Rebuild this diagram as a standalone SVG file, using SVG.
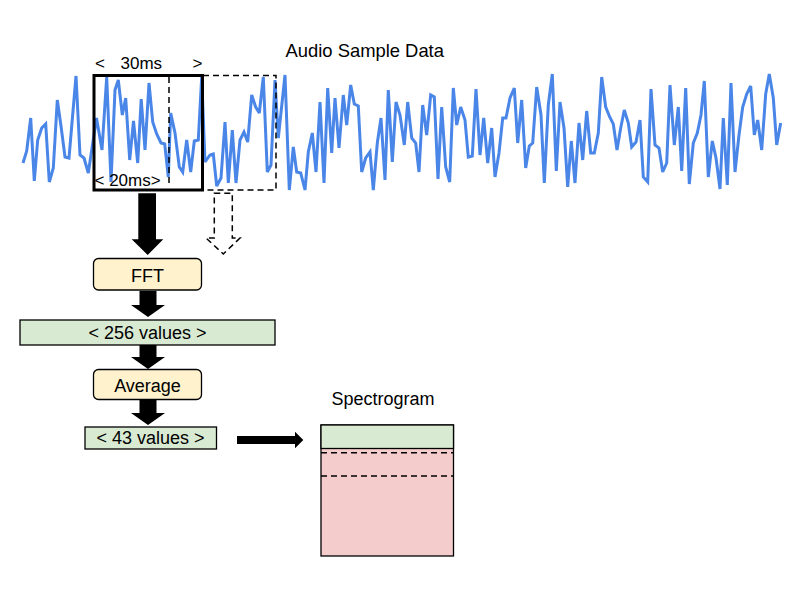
<svg xmlns="http://www.w3.org/2000/svg" width="800" height="600" viewBox="0 0 800 600">
<style>
text{font-family:"Liberation Sans",Arial,sans-serif;fill:#000}
.t18{font-size:18px}
.t17{font-size:17px}
.wave{fill:none;stroke:#4a86e8;stroke-width:3;stroke-linejoin:miter;stroke-miterlimit:3}
.proc{fill:#fff2cc;stroke:#000;stroke-width:1.3}
.data{fill:#d9ead3;stroke:#000;stroke-width:1.3}
.arr{fill:#000;stroke:none}
.dash{fill:none;stroke:#000;stroke-width:1.5;stroke-dasharray:6 4}
</style>
<rect width="800" height="600" fill="#fff"/>
<g id="audio">
<text class="t18" x="285.5" y="57" style="font-size:18.4px">Audio Sample Data</text>
<polyline class="wave" points="23,163 26.7,151 30.7,118 34.3,181 37.7,140 41.7,128 45.7,124 49.3,182 53.3,168 57.3,100 61,126 65,157 69,158 76,76 80,155 84,158 88.3,173 96.5,118 102,150 106.7,77 111,182 115,90 118.3,80 122.3,115 125.7,98 129.7,160 133.5,121 137.7,163 141.2,99 145,150 149,83 152.7,122 156.7,134 161,143 164.7,144 168.3,177 170.7,113 175,133 179.3,167 182.7,172 186.7,140 190.7,172 194.3,141 198.3,140 201.7,77 205,162 210,155 213.3,154 216.7,186 221,178 225,122 228.3,183 232.3,130 236,183 240,140 244,132 247.7,142 251.7,95 255.7,107 259.3,113 263.3,77 267.3,172 271,165 275,80 278.3,138 285,75 289.3,190 293.3,147 296.7,172 300.7,173 305,190 308.3,152 312.3,133 316,172 320,102 324,183 327.7,88 331.7,153 335,98 339,148 343.3,95 346.7,125 350.7,85 354.3,104 358.3,106 361.7,172 365.7,158 370,152 373.3,190 377.3,143 381,118 385,180 388.3,90 392.3,162 396,102 400,115 404.3,145 407.7,102 411.7,138 415.7,143 419,172 422.7,105 426.7,135 430.7,95 434.3,97 438,179 441.7,107 445.7,167 449.7,182 453.3,88 456.7,125 460.7,107 465,120 468.3,157 472.3,156 476,89 480,155 483.7,118 487.7,163 491.7,128 495,177 499,153 502.7,118 506,118 510,98 514.3,88 517.7,143 521.7,100 525.7,168 529.3,146 532.7,143 536.7,87 541,115 544.3,183 548.3,105 552.3,74 556.3,171 560,102 564,128 567.7,187 571.3,141 575,183 579,123 582.7,160 586.7,111 590.7,153 594.3,153 598.3,133 601.7,77 605.7,107 609.7,117 613.3,124 617,150 620.7,128 624.3,110 628.3,123 631.7,147 636,142 640,120 643.3,177 647.7,182 651,89 655,145 659,148 662.7,172 666.7,163 670,85 674.3,145 678.3,107 681.7,171 685.7,88 689.3,184 693.3,143 697.3,133 701,115 704.3,81 708.3,177 712.3,141 716,158 720,189 723.3,118 727.3,185 731,83 735,172 739,135 742.7,107 746.7,94 750.7,86 754.3,135 757.7,120 761.7,150 765.7,94 769.3,74 773.3,98 776.7,145 780.7,123"/>
</g>
<g id="window">
<rect x="94" y="75.5" width="108.5" height="114.5" fill="none" stroke="#000" stroke-width="3"/>
<line class="dash" x1="169" y1="77" x2="169" y2="183"/>
<rect class="dash" x="203" y="75.5" width="73" height="114.5"/>
<text class="t17" x="95" y="69">&lt;</text>
<text class="t17" x="120.5" y="69">30ms</text>
<text class="t17" x="192.5" y="69">&gt;</text>
<text class="t17" x="94.5" y="186">&lt; 20ms&gt;</text>
</g>
<g id="fft">
<rect class="proc" x="93.5" y="258.5" width="108" height="31.5" rx="5"/>
<text class="t18" x="147.5" y="281.5" text-anchor="middle">FFT</text>
</g>
<g id="values256">
<rect class="data" x="20" y="320" width="255" height="25"/>
<text class="t18" x="147.5" y="339" text-anchor="middle">&lt; 256 values &gt;</text>
</g>
<g id="average">
<rect class="proc" x="93.5" y="369.5" width="108" height="30" rx="5"/>
<text class="t18" x="147.5" y="391.5" text-anchor="middle">Average</text>
</g>
<g id="values43">
<rect class="data" x="85" y="427" width="131.5" height="22"/>
<text class="t18" x="150.5" y="444" text-anchor="middle">&lt; 43 values &gt;</text>
</g>
<g id="spectrogram">
<text class="t18" x="383" y="405" text-anchor="middle">Spectrogram</text>
<rect x="321" y="425" width="132.5" height="131" fill="#f4cccc" stroke="#000" stroke-width="1.3"/>
<rect x="321" y="425" width="132.5" height="23.5" fill="#d9ead3" stroke="#000" stroke-width="1.3"/>
<line class="dash" x1="321" y1="452.7" x2="453.5" y2="452.7"/>
<line class="dash" x1="321" y1="476" x2="453.5" y2="476"/>
</g>
<g id="connectors">
<polygon class="arr" points="138.3,193.3 156,193.3 156,239.3 163.3,239.3 147.7,255 131.7,239.3 138.3,239.3"/>
<polygon class="dash" points="214.3,193.3 232.3,193.3 232.3,238 240,238 223.3,254 206,238 214.3,238"/>
<polygon class="arr" points="139.5,291 156.5,291 156.5,305 165,305 148,317 131,305 139.5,305"/>
<polygon class="arr" points="139.5,345 156.5,345 156.5,357 165,357 148,369 131,357 139.5,357"/>
<polygon class="arr" points="139.5,399.5 156.5,399.5 156.5,413 165,413 148,425 131,413 139.5,413"/>
<polygon class="arr" points="237,436 295,436 295,431.7 303.3,440 295,448.3 295,444 237,444"/>
</g>
</svg>
